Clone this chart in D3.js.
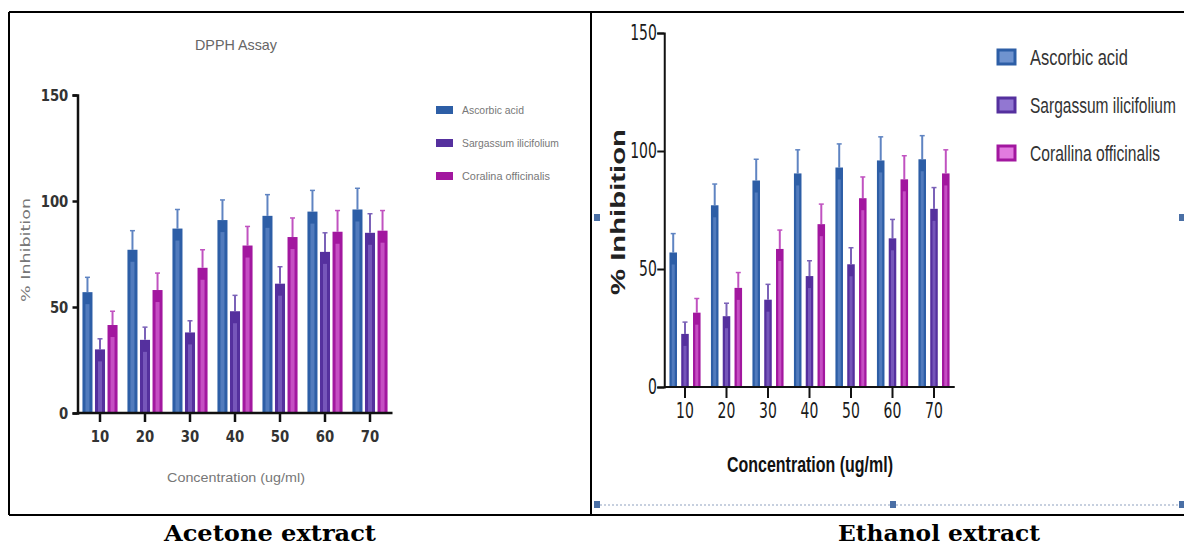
<!DOCTYPE html>
<html>
<head>
<meta charset="utf-8">
<style>
  body { margin: 0; background: #fff; }
  svg { display: block; }
</style>
</head>
<body>
<svg id="fig" width="1184" height="545"></svg>
<script src="https://cdn.jsdelivr.net/npm/d3@7/dist/d3.min.js"></script>
<script>

// categories and series
var concentrations = ['10', '20', '30', '40', '50', '60', '70'];
var yTicks = [0, 50, 100, 150];
var acetoneNames = ['Ascorbic acid', 'Sargassum ilicifolium', 'Coralina officinalis'];
var ethanolNames = ['Ascorbic acid', 'Sargassum ilicifolium', 'Corallina officinalis'];

// acetone extract, % inhibition and error (upper whisker)
var acetoneAscorbic      = [57, 77, 87, 91, 93, 95, 96];
var acetoneAscorbicErr   = [7, 9, 9, 9.5, 10, 10, 10];
var acetoneSargassum     = [30, 34.5, 38, 48, 61, 76, 85];
var acetoneSargassumErr  = [5, 6, 5.5, 7.5, 8, 9, 9];
var acetoneCoralina      = [41.5, 58, 68.5, 79, 83, 85.5, 86];
var acetoneCoralinaErr   = [6.5, 8, 8.5, 9, 9, 10, 9.5];

// ethanol extract
var ethanolAscorbic      = [57, 77, 87.5, 90.5, 93, 96, 96.5];
var ethanolAscorbicErr   = [8, 9, 9, 10, 10, 10, 10];
var ethanolSargassum     = [22.5, 30, 37, 47, 52, 63, 75.5];
var ethanolSargassumErr  = [5, 5.5, 6.5, 6.5, 7, 8, 9];
var ethanolCoralina      = [31.5, 42, 58.5, 69, 80, 88, 90.5];
var ethanolCoralinaErr   = [6, 6.5, 8, 8.5, 9, 10, 10];

var colors = ['#2d5ea6', '#55309e', '#a2179f'];
var lightColors = ['#6f93cf', '#9277d2', '#e27be0'];
var errColors = ['#5f84c2', '#7b62b8', '#c052c0'];

var svg = d3.select('#fig');

// table frame
var frame = svg.append('g').attr('stroke', '#000').attr('stroke-width', 2);
frame.append('line').attr('x1', 9).attr('y1', 12).attr('x2', 1184).attr('y2', 12);
frame.append('line').attr('x1', 9).attr('y1', 515).attr('x2', 1184).attr('y2', 515);
frame.append('line').attr('x1', 9).attr('y1', 12).attr('x2', 9).attr('y2', 515);
frame.append('line').attr('x1', 591).attr('y1', 12).attr('x2', 591).attr('y2', 515);

// dashed selection line + handles of the pasted ethanol picture
svg.append('line')
    .attr('x1', 596).attr('y1', 505).attr('x2', 1184).attr('y2', 505)
    .style('stroke', '#8fa2c0').style('stroke-width', 1.2).style('stroke-dasharray', '2,2');
[[597, 505], [893, 505], [1182, 505], [597, 218], [1182, 218]].forEach(function(p){
    svg.append('rect').attr('x', p[0] - 3).attr('y', p[1] - 4).attr('width', 6).attr('height', 7)
        .style('fill', '#4a6fa5');
});

function makeSeries(vals, errs){
    return vals.map(function(v, i){ return {v: v, e: errs[i]}; });
}

// squeeze a text horizontally to a wanted width (narrow fonts are not installed)
function squeeze(sel, width, x, y){
    sel.each(function(d, i){
        var w = typeof width === 'function' ? width(d, i) : width;
        var natural = this.getComputedTextLength();
        d3.select(this).attr('transform', 'translate(' + x + ',' + y + ') scale(' + (w / natural) + ',1)');
    });
}

function drawChart(cfg){
    var g = svg.append('g');

    var y = d3.scaleLinear().domain([0, 150]).range([cfg.y0, cfg.y1]);
    var x0 = d3.scaleBand().domain(concentrations).range(cfg.xRange)
        .paddingInner(cfg.padGroup).paddingOuter(cfg.padGroup / 2);
    var x1 = d3.scaleBand().domain([0, 1, 2]).range([0, x0.bandwidth()])
        .paddingInner(cfg.padBar);

    // bars
    cfg.series.forEach(function(s, si){
        var bars = g.append('g').selectAll('g').data(s).enter().append('g')
            .attr('transform', function(d, i){ return 'translate(' + (x0(concentrations[i]) + x1(si)) + ',0)'; });

        // error whisker
        bars.append('line')
            .attr('x1', x1.bandwidth() / 2).attr('x2', x1.bandwidth() / 2)
            .attr('y1', function(d){ return y(d.v); })
            .attr('y2', function(d){ return y(d.v + d.e); })
            .style('stroke', errColors[si]).style('stroke-width', cfg.errWidth);
        bars.append('line')
            .attr('x1', x1.bandwidth() / 2 - 2.5).attr('x2', x1.bandwidth() / 2 + 2.5)
            .attr('y1', function(d){ return y(d.v + d.e); })
            .attr('y2', function(d){ return y(d.v + d.e); })
            .style('stroke', errColors[si]).style('stroke-width', 1.5);

        bars.append('rect')
            .attr('x', 0).attr('width', x1.bandwidth())
            .attr('y', function(d){ return y(d.v); })
            .attr('height', function(d){ return y(0) - y(d.v); })
            .style('fill', colors[si]);
        // lighter inner band
        bars.append('rect')
            .attr('x', x1.bandwidth() * 0.3).attr('width', x1.bandwidth() * 0.4)
            .attr('y', function(d){ return y(d.v) + 12; })
            .attr('height', function(d){ return Math.max(0, y(0) - y(d.v) - 12); })
            .style('fill', lightColors[si]).style('opacity', 0.55);
    });

    // axes
    var yAxis = g.append('g')
        .attr('transform', 'translate(' + cfg.xRange[0] + ',0)')
        .call(d3.axisLeft(y).tickValues(yTicks).tickSize(cfg.yTick).tickPadding(cfg.yPad));
    var xAxis = g.append('g')
        .attr('transform', 'translate(0,' + cfg.y0 + ')')
        .call(d3.axisBottom(x0).tickSize(cfg.xTick).tickPadding(cfg.xPad).tickSizeOuter(0));

    [yAxis, xAxis].forEach(function(a){
        a.select('.domain').style('stroke', '#111').style('stroke-width', cfg.axisWidth);
        a.selectAll('.tick line').style('stroke', '#111').style('stroke-width', cfg.axisWidth);
        a.selectAll('text')
            .attr('transform', 'scale(' + cfg.tickScale + ',1)')
            .style('font-family', 'DejaVu Sans Condensed, DejaVu Sans, sans-serif')
            .style('font-stretch', 'condensed')
            .style('font-size', cfg.tickSize + 'px')
            .style('font-weight', cfg.tickWeight)
            .style('fill', cfg.tickColor);
    });
    xAxis.select('.domain').attr('d', 'M' + cfg.xRange[0] + ',0H' + cfg.xRange[1]);

    // titles
    if (cfg.title) {
        g.append('text')
            .attr('text-anchor', 'middle')
            .style('font-family', 'Liberation Sans, Arial, sans-serif')
            .style('font-size', '14px').style('fill', '#666')
            .text('DPPH Assay')
            .call(squeeze, 82, cfg.title.x, cfg.title.y);
    }
    g.append('text')
        .attr('text-anchor', 'middle')
        .style('font-family', 'Liberation Sans, Arial, sans-serif')
        .style('font-size', cfg.xTitle.size + 'px')
        .style('font-weight', cfg.xTitle.weight)
        .style('fill', cfg.xTitle.color)
        .text('Concentration (ug/ml)')
        .call(squeeze, cfg.xTitle.len, cfg.xTitle.x, cfg.xTitle.y);
    g.append('text')
        .attr('transform', 'translate(' + cfg.yTitle.x + ',' + cfg.yTitle.y + ') rotate(-90)')
        .attr('text-anchor', 'middle')
        .attr('textLength', cfg.yTitle.len).attr('lengthAdjust', 'spacingAndGlyphs')
        .style('font-family', cfg.yTitle.font)
        .style('font-size', cfg.yTitle.size + 'px')
        .style('font-weight', cfg.yTitle.weight)
        .style('fill', cfg.yTitle.color)
        .text('% Inhibition');

    // legend
    var leg = g.append('g').selectAll('g').data(cfg.names).enter().append('g')
        .attr('transform', function(d, i){ return 'translate(' + cfg.legend.x + ',' + (cfg.legend.y + i * cfg.legend.step) + ')'; });
    leg.append('rect')
        .attr('x', 0).attr('y', -cfg.legend.h / 2)
        .attr('width', cfg.legend.w).attr('height', cfg.legend.h)
        .style('fill', function(d, i){ return cfg.legend.boxed ? lightColors[i] : colors[i]; })
        .style('stroke', function(d, i){ return colors[i]; })
        .style('stroke-width', cfg.legend.boxed ? 3 : 0);
    leg.append('text')
        .attr('dy', '0.35em')
        .style('font-family', 'Liberation Sans, Arial, sans-serif')
        .style('font-size', cfg.legend.size + 'px')
        .style('fill', cfg.legend.color)
        .text(function(d){ return d; })
        .call(squeeze, function(d, i){ return cfg.legend.lens[i]; }, cfg.legend.tx, 0);
}

drawChart({
    series: [makeSeries(acetoneAscorbic, acetoneAscorbicErr),
             makeSeries(acetoneSargassum, acetoneSargassumErr),
             makeSeries(acetoneCoralina, acetoneCoralinaErr)],
    names: acetoneNames,
    y0: 413, y1: 95,
    xRange: [77.5, 392.5], padGroup: 0.22, padBar: 0.2,
    errWidth: 2, axisWidth: 2.5, yTick: 5, yPad: 5, xTick: 9, xPad: 9,
    tickSize: 16, tickWeight: 'bold', tickScale: 0.92, tickColor: '#333',
    title: {x: 236, y: 50},
    xTitle: {x: 236, y: 482, len: 138, size: 12, weight: 'normal', color: '#777'},
    yTitle: {x: 30, y: 250, len: 104, font: 'DejaVu Sans, sans-serif', size: 13, weight: 'normal', color: '#777'},
    legend: {x: 436, y: 110, step: 33, w: 17, h: 8, tx: 26, boxed: false, lens: [62, 97, 88],
             size: 11, color: '#777'}
});

drawChart({
    series: [makeSeries(ethanolAscorbic, ethanolAscorbicErr),
             makeSeries(ethanolSargassum, ethanolSargassumErr),
             makeSeries(ethanolCoralina, ethanolCoralinaErr)],
    names: ethanolNames,
    y0: 387, y1: 33,
    xRange: [664.25, 954.75], padGroup: 0.25, padBar: 0.36,
    errWidth: 2, axisWidth: 2, yTick: 7, yPad: 3, xTick: 11, xPad: 5,
    tickSize: 21, tickWeight: 'normal', tickScale: 0.74, tickColor: '#1a1a1a',
    title: null,
    xTitle: {x: 810, y: 472, len: 166, size: 22, weight: 'bold', color: '#111'},
    yTitle: {x: 625, y: 212, len: 166, font: 'Liberation Sans, Arial, sans-serif', size: 21, weight: 'bold', color: '#222'},
    legend: {x: 998, y: 57, step: 48, w: 17, h: 14, tx: 32, boxed: true, lens: [98, 146, 130],
             size: 22, color: '#333'}
});

// captions under the table
svg.append('text').attr('text-anchor', 'middle')
    .style('font-family', 'DejaVu Serif Condensed, Liberation Serif, serif')
    .style('font-size', '22px').style('font-weight', 'bold').style('fill', '#000')
    .text('Acetone extract')
    .call(squeeze, 212, 270, 541);
svg.append('text').attr('text-anchor', 'middle')
    .style('font-family', 'DejaVu Serif Condensed, Liberation Serif, serif')
    .style('font-size', '22px').style('font-weight', 'bold').style('fill', '#000')
    .text('Ethanol extract')
    .call(squeeze, 202, 939, 541);

</script>
</body>
</html>
